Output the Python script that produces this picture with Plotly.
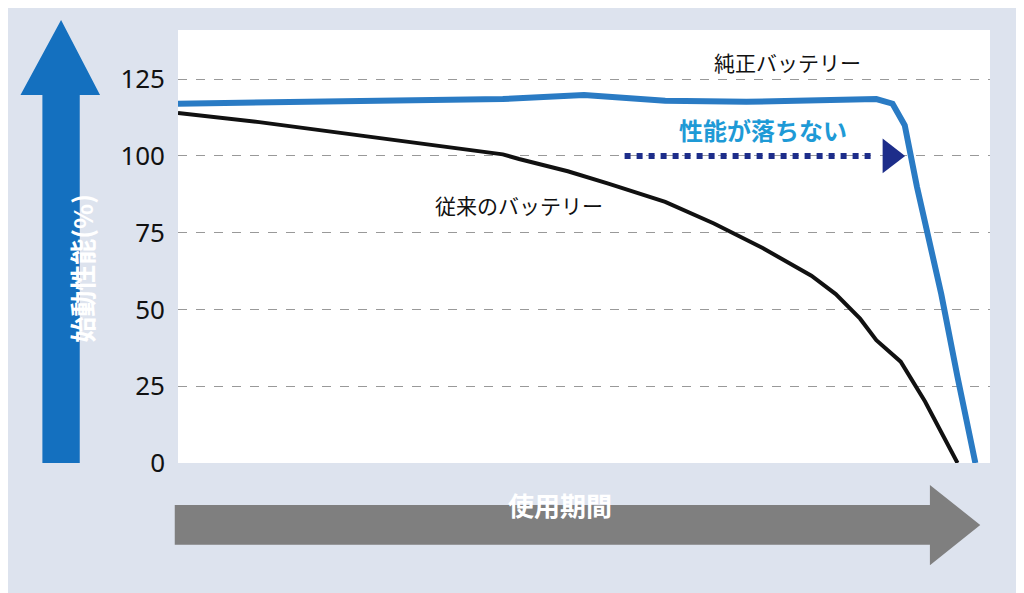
import plotly.graph_objects as go

blue_x = [0, 10, 20, 30, 40, 50, 60, 70, 80, 86, 88, 89.5, 91, 94, 96, 98.2]
blue_y = [117, 117.3, 117.6, 117.8, 118.5, 119.8, 118, 117.6, 118.2, 118.5, 117, 110, 90, 55, 28, 0]
black_x = [0, 10, 20, 30, 40, 42, 48, 53, 60, 66, 72, 78, 81, 84, 86, 89, 92, 94, 96]
black_y = [114, 111, 107.5, 104, 100.5, 99, 95, 91, 85, 78, 70, 61, 55, 47, 40, 33, 20, 10, 0]
arrow_x = [55, 86]
arrow_y = [100, 100]
ticks = [0, 25, 50, 75, 100, 125]
font = "Noto Sans CJK JP"

fig = go.Figure()
fig.add_trace(go.Scatter(x=blue_x, y=blue_y, mode="lines", line=dict(color="#2a7bc4", width=6), hoverinfo="skip"))
fig.add_trace(go.Scatter(x=black_x, y=black_y, mode="lines", line=dict(color="#111111", width=4), hoverinfo="skip"))
fig.add_trace(go.Scatter(x=arrow_x, y=arrow_y, mode="lines", line=dict(color="#1d2d8a", width=6, dash="dot"), hoverinfo="skip"))
fig.add_trace(go.Scatter(x=[arrow_x[1] + 1.7], y=[arrow_y[1]], mode="markers",
                         marker=dict(symbol="triangle-right", size=30, color="#1d2d8a"), hoverinfo="skip"))

fig.update_layout(
    width=1024, height=593, showlegend=False,
    paper_bgcolor="#dde3ee", plot_bgcolor="white",
    margin=dict(l=170, r=42, t=22, b=138),
    font=dict(family=font, size=22, color="#111"),
    xaxis=dict(range=[0, 100], showticklabels=False, showgrid=False, zeroline=False, fixedrange=True),
    yaxis=dict(range=[0, 141], tickvals=ticks, showgrid=True, gridcolor="#999", griddash="dash",
               zeroline=False, ticks="", ticklabelstandoff=12, tickfont=dict(size=26, family="Noto Sans")),
    annotations=[
        dict(x=72, y=108.5, text="<b>性能が落ちない</b>", showarrow=False, font=dict(size=24, color="#1e9ad6")),
        dict(x=75, y=130.5, text="純正バッテリー", showarrow=False, font=dict(size=21)),
        dict(x=42, y=84, text="従来のバッテリー", showarrow=False, font=dict(size=21)),
        dict(x=-0.144, y=0.45, xref="paper", yref="paper", text="<b>始動性能(%)</b>", textangle=-90,
             showarrow=False, font=dict(size=26, color="white")),
        dict(x=0.47, y=-0.143, xref="paper", yref="paper", text="<b>使用期間</b>",
             showarrow=False, font=dict(size=26, color="white")),
    ],
    shapes=[
        dict(type="path", xref="paper", yref="paper",
             path="M -0.167 0 L -0.167 0.85 L -0.194 0.85 L -0.144 1.023 L -0.096 0.85 L -0.121 0.85 L -0.121 0 Z",
             fillcolor="#1470bf", line=dict(width=0)),
        dict(type="path", xref="paper", yref="paper",
             path="M -0.004 -0.097 L 0.926 -0.097 L 0.926 -0.051 L 0.988 -0.143 L 0.926 -0.236 L 0.926 -0.189 L -0.004 -0.189 Z",
             fillcolor="#7f7f7f", line=dict(width=0)),
    ],
)
fig.write_html("out.html")
